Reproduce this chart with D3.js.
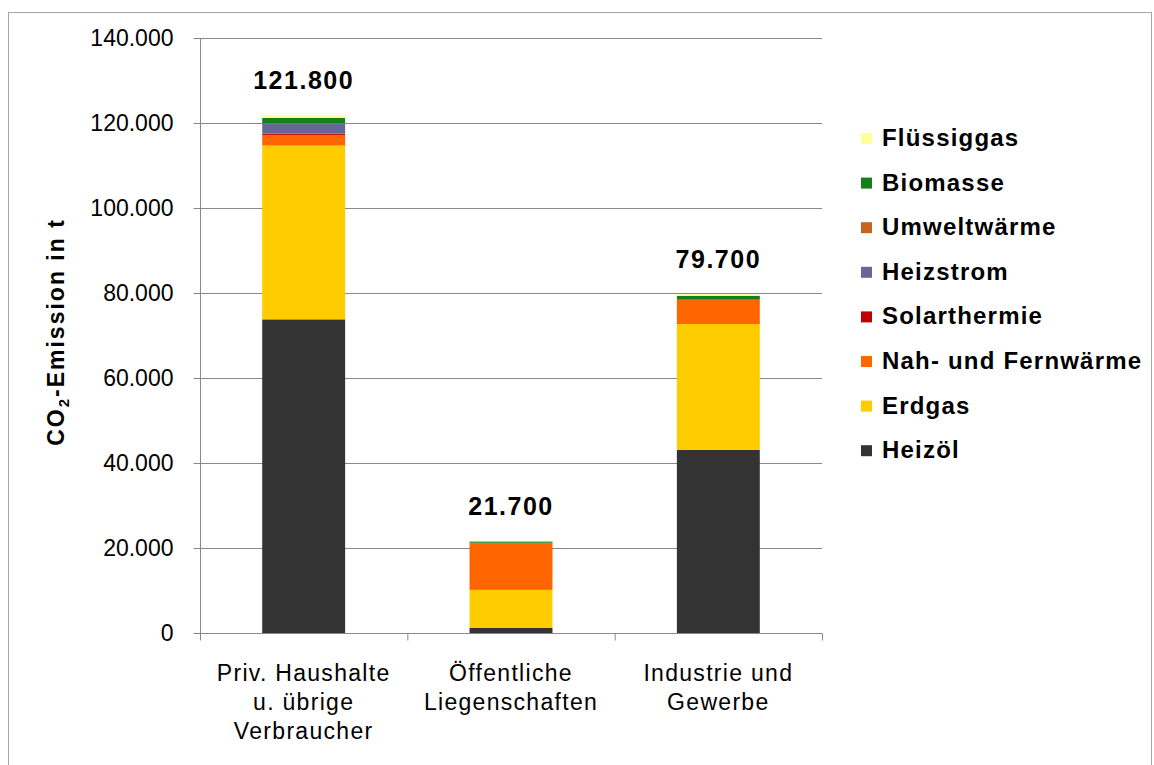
<!DOCTYPE html>
<html><head><meta charset="utf-8">
<script src="https://cdn.jsdelivr.net/npm/d3@7"></script>
<style>body{margin:0;background:#fff}svg{display:block}text{font-family:"Liberation Sans",Arial,sans-serif}</style>
</head><body>
<svg id="c" width="1154" height="765"></svg>
<script>
const categories = ["Priv. Haushalte|u. übrige|Verbraucher", "Öffentliche|Liegenschaften", "Industrie und|Gewerbe"];
const seriesNames = ["Heizöl","Erdgas","Nah- und Fernwärme","Solarthermie","Heizstrom","Umweltwärme","Biomasse","Flüssiggas"];
const seriesColors = ["#333333","#FFCC00","#FF6600","#C00000","#666699","#C8641E","#13801A","#FFFF99"];
const heizoel   = [73800, 1250, 43100];
const erdgas    = [40900, 8900, 29600];
const nahFern   = [2500, 11000, 5650];
const solar     = [300, 0, 0];
const heizstrom = [2400, 100, 200];
const umwelt    = [100, 0, 0];
const biomasse  = [1200, 300, 800];
const fluessig  = [600, 150, 350];
const totals    = [121800, 21700, 79700];
const totalLabels = ["121.800", "21.700", "79.700"];
const yTicks = [0,20000,40000,60000,80000,100000,120000,140000];

const seriesValues = [heizoel, erdgas, nahFern, solar, heizstrom, umwelt, biomasse, fluessig];
const rows = categories.map((c,i)=>{const r={cat:c}; seriesNames.forEach((s,j)=>r[s]=seriesValues[j][i]); return r;});

const svg = d3.select("#c");
svg.append("rect").attr("x",8.5).attr("y",12.5).attr("width",1143).attr("height",800)
  .attr("fill","none").attr("stroke","#a6a6a6");

const x = d3.scaleBand().domain(categories).range([200,822]).paddingInner(0.6).paddingOuter(0.3);
const y = d3.scaleLinear().domain([0,140000]).range([633,38]);
const fmt = d => d3.format(",")(d).replace(/,/g,".");

// gridlines
svg.append("g").selectAll("line").data(yTicks.filter(d=>d>0)).join("line")
  .attr("x1",200).attr("x2",822).attr("y1",d=>Math.round(y(d))+0.5).attr("y2",d=>Math.round(y(d))+0.5)
  .attr("stroke","#888").attr("stroke-width",1);

// y axis
const ya = svg.append("g").attr("transform","translate(200.5,0)")
  .call(d3.axisLeft(y).tickValues(yTicks).tickFormat(fmt).tickSize(7).tickPadding(20));
ya.select(".domain").attr("stroke","#888").attr("d","M0,38.5V633.5");
ya.selectAll(".tick line").attr("stroke","#888");
ya.selectAll(".tick text").attr("font-size",23).attr("fill","#000").attr("font-family","Liberation Sans, Arial, sans-serif");

// stacked bars
const stack = d3.stack().keys(seriesNames)(rows);
svg.append("g").selectAll("g").data(stack).join("g").attr("fill",(d,i)=>seriesColors[i])
  .selectAll("rect").data(d=>d).join("rect")
  .attr("x",d=>x(d.data.cat)).attr("width",x.bandwidth())
  .attr("y",d=>y(d[1])).attr("height",d=>y(d[0])-y(d[1]));

// x axis
const xa = svg.append("g").attr("transform","translate(0,633.5)");
xa.append("line").attr("x1",200).attr("x2",822).attr("stroke","#888");
const bTicks = [200, ...categories.map(c=>x(c)+x.bandwidth()/2+x.step()/2)];
xa.selectAll(".bt").data(bTicks).join("line").attr("class","bt")
  .attr("x1",d=>d+0.5).attr("x2",d=>d+0.5).attr("y1",0).attr("y2",7).attr("stroke","#888");
const cl = xa.selectAll(".cl").data(categories).join("text").attr("class","cl")
  .attr("text-anchor","middle").attr("font-size",23).attr("fill","#000").attr("letter-spacing",1.3)
  .attr("transform",d=>`translate(${x(d)+x.bandwidth()/2},47)`);
cl.selectAll("tspan").data(d=>d.split("|")).join("tspan")
  .attr("x",0).attr("dy",(d,i)=>i===0?0:29).text(d=>d);

// totals
svg.append("g").selectAll("text").data(categories).join("text")
  .attr("x",d=>x(d)+x.bandwidth()/2).attr("y",(d,i)=>y(totals[i])-26)
  .attr("text-anchor","middle").attr("font-size",25).attr("font-weight","bold").attr("letter-spacing",1.5)
  .text((d,i)=>totalLabels[i]);

// y title
const yt = svg.append("text").attr("transform","translate(64,332) rotate(-90)")
  .attr("text-anchor","middle").attr("font-size",23).attr("font-weight","bold").attr("letter-spacing",2);
yt.append("tspan").text("CO");
yt.append("tspan").attr("font-size",15).attr("dy",5).text("2");
yt.append("tspan").attr("dy",-5).text("-Emission in t");

// legend
const legOrder = seriesNames.map((s,i)=>i).reverse();
const lg = svg.append("g").selectAll("g").data(legOrder).join("g")
  .attr("transform",(d,k)=>`translate(861,${138+k*44.6})`);
lg.append("rect").attr("x",0).attr("y",-5).attr("width",11).attr("height",11).attr("fill",d=>seriesColors[d]);
lg.append("text").attr("x",21).attr("y",8).attr("font-size",24).attr("font-weight","bold").attr("letter-spacing",1.2).text(d=>seriesNames[d]);
</script>
</body></html>
